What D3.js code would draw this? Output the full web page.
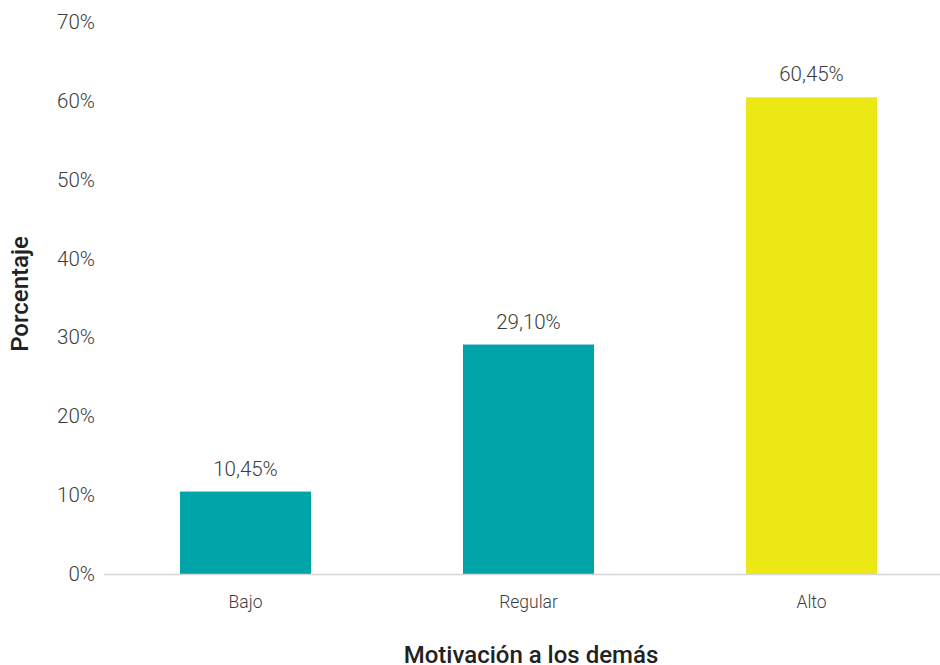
<!DOCTYPE html>
<html>
<head>
<meta charset="utf-8">
<script src="https://cdn.jsdelivr.net/npm/d3@7/dist/d3.min.js"></script>
<style>
  html, body { margin: 0; padding: 0; background: #fff; }
  svg { display: block; font-family: Roboto, "Noto Sans", sans-serif; }
</style>
</head>
<body>
<svg id="chart" width="940" height="665"></svg>
<script>
// Motivación a los demás — distribution by level
const categories = ["Bajo", "Regular", "Alto"];
const values = [10.45, 29.10, 60.45];
const valueLabels = ["10,45%", "29,10%", "60,45%"];
const barColors = ["#00a3a7", "#00a3a7", "#ebe816"];
const yTicks = [0, 10, 20, 30, 40, 50, 60, 70];

const svg = d3.select("#chart");

const x = d3.scaleBand()
  .domain(categories)
  .range([104, 953])
  .paddingInner(0.537)
  .paddingOuter(0.2685);

const y = d3.scaleLinear()
  .domain([0, 70])
  .range([574, 22]);

// y tick labels (no axis line)
const yAxis = d3.axisLeft(y)
  .tickValues(yTicks)
  .tickFormat(d => d + "%")
  .tickSize(0)
  .tickPadding(0);

const gy = svg.append("g")
  .attr("transform", "translate(95,0)")
  .call(yAxis);
gy.select(".domain").remove();
gy.selectAll("text")
  .attr("font-family", "Roboto, sans-serif")
  .attr("font-weight", 300)
  .attr("font-size", 20.5)
  .attr("fill", "#3c3c3c");

// bars
svg.append("g")
  .selectAll("rect")
  .data(categories)
  .join("rect")
  .attr("x", d => x(d))
  .attr("y", (d, i) => y(values[i]))
  .attr("width", x.bandwidth())
  .attr("height", (d, i) => y(0) - y(values[i]))
  .attr("fill", (d, i) => barColors[i]);

// baseline
svg.append("line")
  .attr("x1", 104).attr("x2", 940)
  .attr("y1", y(0) + 0.5).attr("y2", y(0) + 0.5)
  .attr("stroke", "#d6d6d6")
  .attr("stroke-width", 1.3);

// value labels
svg.append("g")
  .selectAll("text")
  .data(categories)
  .join("text")
  .attr("x", d => x(d) + x.bandwidth() / 2)
  .attr("y", (d, i) => y(values[i]) - 16)
  .attr("text-anchor", "middle")
  .attr("font-weight", 300)
  .attr("font-size", 20.5)
  .attr("fill", "#3c3c3c")
  .text((d, i) => valueLabels[i]);

// x axis category labels
const xAxis = d3.axisBottom(x).tickSize(0).tickPadding(0);
const gx = svg.append("g")
  .attr("transform", "translate(0,574)")
  .call(xAxis);
gx.select(".domain").remove();
gx.selectAll("text")
  .attr("dy", 0)
  .attr("y", 34)
  .attr("font-family", "Roboto, sans-serif")
  .attr("font-weight", 300)
  .attr("font-size", 17.5)
  .attr("fill", "#3c3c3c");

// axis titles
svg.append("text")
  .attr("x", 531)
  .attr("y", 663)
  .attr("text-anchor", "middle")
  .attr("font-weight", 500)
  .attr("font-size", 24)
  .attr("fill", "#222")
  .text("Motivación a los demás");

svg.append("text")
  .attr("transform", "translate(28,294) rotate(-90)")
  .attr("text-anchor", "middle")
  .attr("font-weight", 500)
  .attr("font-size", 24)
  .attr("fill", "#222")
  .text("Porcentaje");
</script>
</body>
</html>
